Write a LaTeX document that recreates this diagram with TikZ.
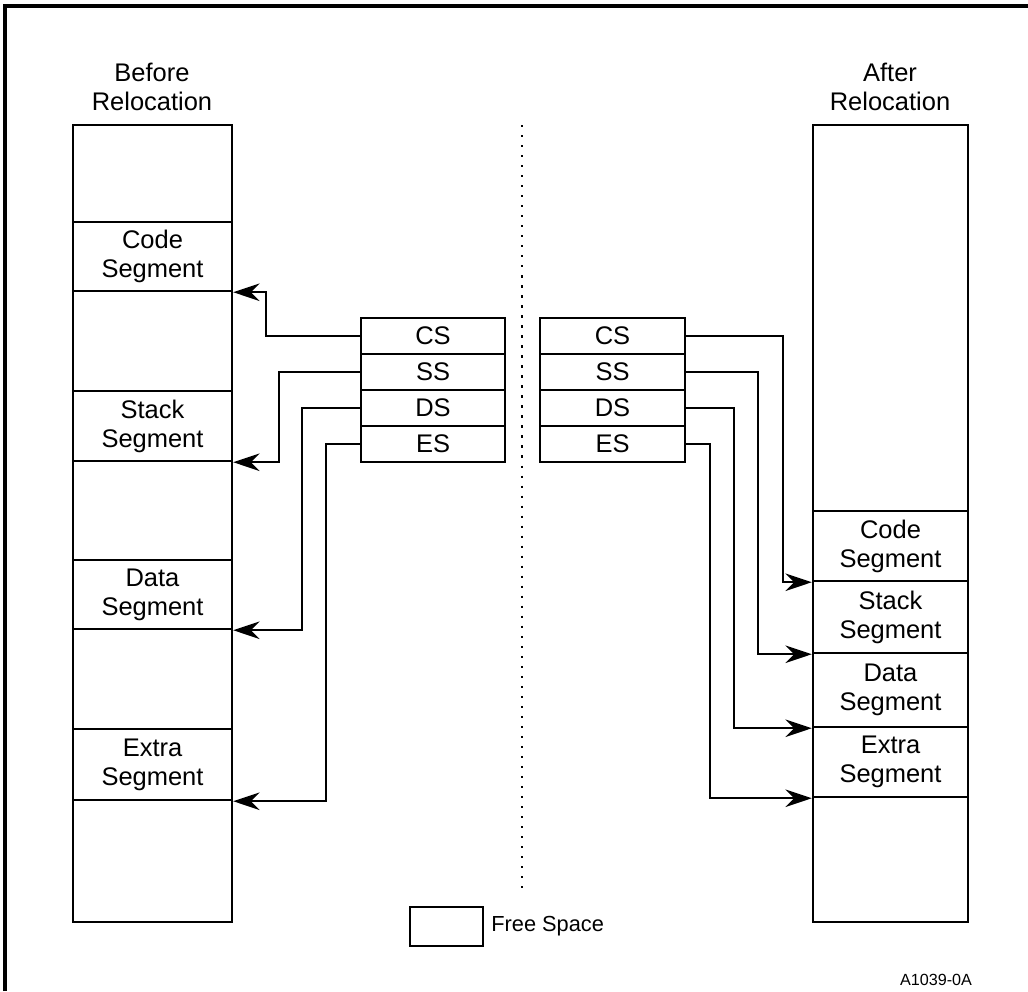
\documentclass[tikz,border=0pt]{standalone}
\usepackage{fontspec}
\setmainfont{Liberation Sans}
\usetikzlibrary{arrows.meta}

\begin{document}
\begin{tikzpicture}[x=0.02cm,y=-0.02cm,>={Stealth[length=15pt,width=10pt,inset=5pt]},
  txt/.style={font=\fontsize{14.5}{16.5}\selectfont,align=center},
  cell/.style={draw,line width=1.4pt,txt,inner sep=0pt},
  lcell/.style={cell,minimum width=3.18cm},
  rcell/.style={cell,minimum width=3.10cm},
  reg/.style={cell,minimum height=0.72cm},
  link/.style={->,line width=1.4pt}]
  \useasboundingbox (0,0) rectangle (1028,991);
  \draw[line width=2pt] (5,991) -- (5,6) -- (1028,6);

  % before relocation
  \node[txt] (ltitle) at (152,87) {Before\\Relocation};
  \node[lcell,minimum height=1.94cm] (lfree0) at (152.5,173.5) {};
  \node[lcell,minimum height=1.38cm] (lcode) at (152.5,256.5) {Code\\Segment};
  \node[lcell,minimum height=2.00cm] (lfree1) at (152.5,341) {};
  \node[lcell,minimum height=1.40cm] (lstack) at (152.5,426) {Stack\\Segment};
  \node[lcell,minimum height=1.98cm] (lfree2) at (152.5,510.5) {};
  \node[lcell,minimum height=1.38cm] (ldata) at (152.5,594.5) {Data\\Segment};
  \node[lcell,minimum height=2.00cm] (lfree3) at (152.5,679) {};
  \node[lcell,minimum height=1.42cm] (lextra) at (152.5,764.5) {Extra\\Segment};
  \node[lcell,minimum height=2.44cm] (lfree4) at (152.5,861) {};

  % registers
  \node[reg,minimum width=2.88cm] (lcs) at (433,336) {CS};
  \node[reg,minimum width=2.88cm] (lss) at (433,372) {SS};
  \node[reg,minimum width=2.88cm] (lds) at (433,408) {DS};
  \node[reg,minimum width=2.88cm] (les) at (433,444) {ES};
  \node[reg,minimum width=2.90cm] (rcs) at (612.5,336) {CS};
  \node[reg,minimum width=2.90cm] (rss) at (612.5,372) {SS};
  \node[reg,minimum width=2.90cm] (rds) at (612.5,408) {DS};
  \node[reg,minimum width=2.90cm] (res) at (612.5,444) {ES};

  % after relocation
  \node[txt] (rtitle) at (890,87) {After\\Relocation};
  \node[rcell,minimum height=7.72cm] (rfree0) at (890.5,318) {};
  \node[rcell,minimum height=1.40cm] (rcode) at (890.5,546) {Code\\Segment};
  \node[rcell,minimum height=1.44cm] (rstack) at (890.5,617) {Stack\\Segment};
  \node[rcell,minimum height=1.48cm] (rdata) at (890.5,690) {Data\\Segment};
  \node[rcell,minimum height=1.40cm] (rextra) at (890.5,762) {Extra\\Segment};
  \node[rcell,minimum height=2.50cm] (rfree1) at (890.5,859.5) {};

  \draw[link] (lcs.west) -- ++(-94,0) |- (lcode.south east);
  \draw[link] (lss.west) -- ++(-81,0) |- (lstack.south east);
  \draw[link] (lds.west) -- ++(-58,0) |- (ldata.south east);
  \draw[link] (les.west) -- ++(-34,0) |- (lextra.south east);
  \draw[link] (rcs.east) -- ++(97,0) |- (rcode.south west);
  \draw[link] (rss.east) -- ++(72,0) |- (rstack.south west);
  \draw[link] (rds.east) -- ++(48,0) |- (rdata.south west);
  \draw[link] (res.east) -- ++(24,0) |- (rextra.south west);

  \draw[line width=1.3pt,dash pattern=on 1.3pt off 4.4pt] (522,125) -- (522,895);

  % legend
  \node[cell,minimum width=1.46cm,minimum height=0.78cm] (key) at (446.5,926.5) {};
  \node[font=\fontsize{12.4}{14}\selectfont,anchor=west,inner sep=0pt] (keytxt) at (491,926.5) {Free Space};
  \node[font=\fontsize{9.2}{11}\selectfont] (fig) at (936,980) {A1039-0A};
\end{tikzpicture}
\end{document}
